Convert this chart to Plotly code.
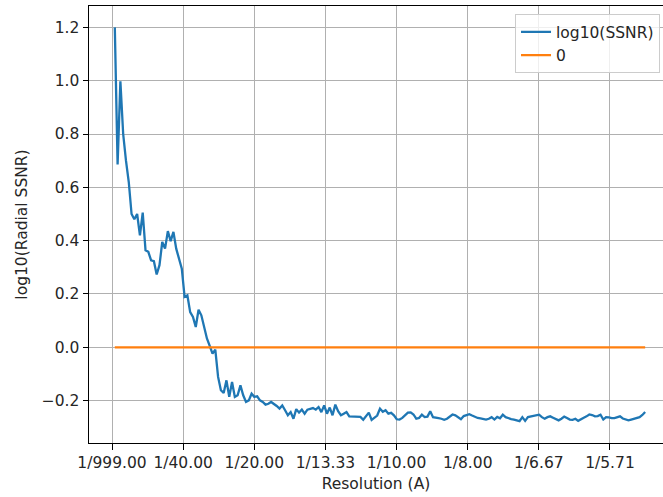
import plotly.graph_objects as go

# ---- data ----
freq_step = 0.000981  # spatial-frequency sampling step (1/A)
ssnr = [
    1.20, 0.686, 0.998, 0.80, 0.70, 0.62, 0.50, 0.48, 0.50, 0.42,
    0.505, 0.364, 0.358, 0.326, 0.323, 0.273, 0.308, 0.395, 0.370, 0.436,
    0.398, 0.433, 0.370, 0.333, 0.295, 0.189, 0.195, 0.132, 0.114, 0.076,
    0.141, 0.120, 0.076, 0.033, 0.005, -0.024, -0.009, -0.111, -0.161, -0.171,
    -0.124, -0.186, -0.130, -0.186, -0.180, -0.143, -0.180, -0.205, -0.199, -0.174,
    -0.186, -0.184, -0.199, -0.205, -0.215, -0.212, -0.205, -0.211, -0.220, -0.230,
    -0.218, -0.236, -0.255, -0.243, -0.268, -0.232, -0.245, -0.234, -0.249, -0.234,
    -0.230, -0.228, -0.234, -0.224, -0.243, -0.218, -0.249, -0.226, -0.255, -0.215,
    -0.240, -0.255, -0.249, -0.243, -0.259, -0.259, -0.261, -0.259, -0.261, -0.272,
    -0.258, -0.245, -0.272, -0.263, -0.256, -0.230, -0.242, -0.236, -0.249, -0.246,
    -0.255, -0.270, -0.271, -0.265, -0.255, -0.245, -0.244, -0.252, -0.268, -0.265,
    -0.253, -0.262, -0.260, -0.240, -0.262, -0.263, -0.266, -0.268, -0.272, -0.268,
    -0.259, -0.252, -0.255, -0.261, -0.270, -0.258, -0.254, -0.251, -0.256, -0.262,
    -0.265, -0.267, -0.269, -0.271, -0.268, -0.262, -0.271, -0.261, -0.266, -0.253,
    -0.262, -0.267, -0.269, -0.271, -0.273, -0.277, -0.262, -0.276, -0.262, -0.260,
    -0.257, -0.254, -0.253, -0.262, -0.268, -0.262, -0.259, -0.264, -0.270, -0.274,
    -0.268, -0.260, -0.265, -0.271, -0.272, -0.268, -0.276, -0.269, -0.264, -0.259,
    -0.252, -0.254, -0.259, -0.258, -0.253, -0.271, -0.262, -0.263, -0.266, -0.266,
    -0.263, -0.259, -0.267, -0.271, -0.274, -0.271, -0.268, -0.266, -0.262, -0.254,
    -0.243,
]
freq = [round((i + 1) * freq_step, 6) for i in range(len(ssnr))]
zero_line = [0.0 for _ in freq]

xtick_vals = [0.0, 0.025, 0.05, 0.075, 0.1, 0.125, 0.15, 0.175]
xtick_text = ["1/999.00", "1/40.00", "1/20.00", "1/13.33", "1/10.00", "1/8.00", "1/6.67", "1/5.71"]
ytick_vals = [-0.2, 0.0, 0.2, 0.4, 0.6, 0.8, 1.0, 1.2]
ytick_text = ["\u22120.2", "0.0", "0.2", "0.4", "0.6", "0.8", "1.0", "1.2"]

FONT = "DejaVu Sans"
FS = 15.5
TXT = "#262626"

fig = go.Figure()
fig.add_trace(go.Scatter(x=freq, y=ssnr, mode="lines", name="log10(SSNR)",
                         line=dict(color="#1f77b4", width=2.3)))
fig.add_trace(go.Scatter(x=freq, y=zero_line, mode="lines", name="0",
                         line=dict(color="#ff7f0e", width=2.3)))

axis_common = dict(
    showgrid=True, gridcolor="#b0b0b0", gridwidth=1.2,
    zeroline=False, showline=True, linecolor="black", linewidth=1.2,
    ticks="outside", ticklen=5.4, tickwidth=1.2, tickcolor="black",
    tickfont=dict(family=FONT, size=FS, color=TXT),
    automargin=False,
)

fig.update_layout(
    width=663, height=497,
    margin=dict(l=89, r=0, t=6, b=54, autoexpand=False),
    paper_bgcolor="white", plot_bgcolor="white",
    font=dict(family=FONT, size=FS, color=TXT),
    xaxis=dict(**axis_common, mirror=True, range=[-0.00809, 0.19364],
               tickmode="array", tickvals=xtick_vals, ticktext=xtick_text,
               title=dict(text="Resolution (A)", standoff=7,
                          font=dict(family=FONT, size=FS, color=TXT))),
    yaxis=dict(**axis_common, mirror=False, range=[-0.359, 1.2802],
               tickmode="array", tickvals=ytick_vals, ticktext=ytick_text,
               title=dict(text="log10(Radial SSNR)", standoff=10,
                          font=dict(family=FONT, size=FS, color=TXT))),
    legend=dict(x=0.9948, y=0.981, xanchor="right", yanchor="top",
                bgcolor="rgba(255,255,255,0.8)", bordercolor="#cccccc", borderwidth=1,
                font=dict(family=FONT, size=FS, color=TXT)),
    showlegend=True,
)

fig.write_html("out.html", config={"displayModeBar": False},
               post_script="document.body.style.margin='0';document.body.style.padding='0';")
